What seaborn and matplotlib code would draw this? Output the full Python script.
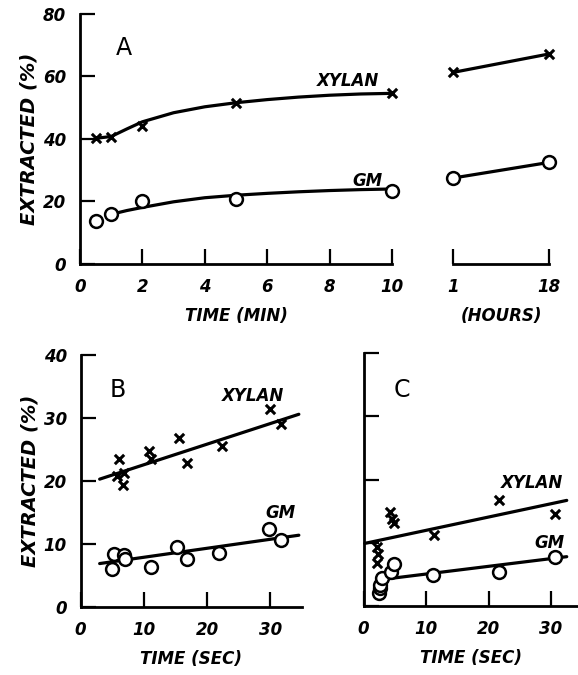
import numpy as np
import pandas as pd
import seaborn as sns
import matplotlib.pyplot as plt

# ---- panel A : short times (min) ----
a_t = [0.5, 1, 2, 5, 10]
a_xylan = [40.3, 40.7, 44, 51.5, 54.6]
a_gm = [13.8, 16, 20.2, 20.8, 23.5]

# drawn curves
a_xylan_curve_t = [0.5, 1, 1.5, 2, 3, 4, 5, 6, 7, 8, 9, 10]
a_xylan_curve = [40.2, 40.8, 43.2, 45.5, 48.4, 50.3, 51.6, 52.6, 53.4, 54.0, 54.4, 54.6]
a_gm_curve_t = [1, 1.5, 2, 3, 4, 5, 6, 7, 8, 9, 10]
a_gm_curve = [15.9, 17.1, 18.1, 19.9, 21.2, 22.0, 22.6, 23.1, 23.5, 23.8, 24.0]

# ---- panel A : long times (hours) ----
a_hours = [1, 18]
a_xylan_h = [61.3, 67.2]
a_gm_h = [27.5, 32.5]

# ---- panel B (sec) ----
b_xylan_t = [5.8, 6.0, 6.7, 6.8, 10.8, 11.1, 15.5, 16.8, 22.3, 30.0, 31.7]
b_xylan = [20.8, 23.5, 19.3, 21.2, 24.8, 23.5, 26.9, 22.8, 25.6, 31.4, 29.1]
b_gm_t = [5.0, 5.3, 6.8, 7.0, 11.1, 15.3, 16.8, 21.8, 29.8, 31.6]
b_gm = [6.1, 8.4, 8.2, 7.6, 6.4, 9.5, 7.7, 8.5, 12.4, 10.6]
b_fit_t = [3, 34.5]
b_xylan_fit = [20.3, 30.6]
b_gm_fit = [6.9, 11.4]

# ---- panel C (sec) ----
c_xylan_t = [2.1, 2.3, 2.2, 4.2, 4.5, 4.8, 11.2, 21.6, 30.6]
c_xylan = [6.8, 8.2, 9.4, 14.8, 13.8, 13.2, 11.2, 16.7, 14.6]
c_gm_t = [2.5, 2.6, 2.6, 2.9, 4.4, 4.9, 11.1, 21.6, 30.6]
c_gm = [2.0, 2.8, 3.3, 4.5, 5.4, 6.6, 4.9, 5.4, 7.7]
c_xylan_fit_t = [0.2, 32.5]
c_xylan_fit = [9.9, 16.7]
c_gm_fit_t = [3, 32.5]
c_gm_fit = [4.2, 7.8]

sns.set_style('ticks')
plt.rcParams['font.family'] = ['DejaVu Sans']
plt.rcParams.update({'text.color': 'black', 'axes.labelcolor': 'black',
                     'xtick.color': 'black', 'ytick.color': 'black',
                     'axes.edgecolor': 'black'})

LW = 2.0
lab = dict(fontsize=12, fontweight='bold', fontstyle='italic')


def style_ax(ax, ylabels=True):
    sns.despine(ax=ax)
    for s in ['left', 'bottom']:
        ax.spines[s].set_linewidth(LW)
        ax.spines[s].set_color('black')
    ax.tick_params(direction='in', length=11, width=1.6, pad=10, labelsize=12,
                   color='black', labelcolor='black')
    for t in ax.get_xticklabels() + ax.get_yticklabels():
        t.set_fontweight('bold')
        t.set_fontstyle('italic')
    if not ylabels:
        ax.set_yticklabels([])


def draw_xylan(ax, x, y, s=45):
    sns.scatterplot(x=x, y=y, marker='x', color='black', s=s, linewidth=2.2,
                    ax=ax, zorder=3, clip_on=False)


def draw_gm(ax, x, y, s=85):
    sns.scatterplot(x=x, y=y, marker='o', color='white', edgecolor='black', s=s,
                    linewidth=1.8, ax=ax, zorder=3, clip_on=False)


def draw_line(ax, x, y):
    sns.lineplot(x=x, y=y, color='black', lw=2.3, ax=ax, zorder=2, clip_on=False)


fig = plt.figure(figsize=(5.78, 6.75), dpi=100)
axA = fig.add_axes([0.1384, 0.6089, 0.5398, 0.3704])
axA2 = fig.add_axes([0.7837, 0.6089, 0.1661, 0.3704])
axB = fig.add_axes([0.1396, 0.1007, 0.3829, 0.3733])
axC = fig.add_axes([0.6289, 0.1022, 0.3711, 0.3748])

# panel A
draw_line(axA, a_xylan_curve_t, a_xylan_curve)
draw_line(axA, a_gm_curve_t, a_gm_curve)
draw_xylan(axA, a_t, a_xylan)
draw_gm(axA, a_t, a_gm)
axA.set_xlim(0, 10)
axA.set_ylim(0, 80)
axA.set_xticks([0, 2, 4, 6, 8, 10])
axA.set_yticks([0, 20, 40, 60, 80])
style_ax(axA)
axA.set_xlabel('TIME (MIN)', labelpad=8, **lab)
axA.set_ylabel('EXTRACTED (%)', labelpad=3, fontsize=14, fontweight='bold', fontstyle='italic')
axA.text(1.4, 69, 'A', fontsize=17, ha='center', va='center')
axA.text(8.6, 58.5, 'XYLAN', ha='center', va='center', **lab)
axA.text(9.2, 26.5, 'GM', ha='center', va='center', **lab)

# panel A, hours
draw_line(axA2, a_hours, a_xylan_h)
draw_line(axA2, a_hours, a_gm_h)
draw_xylan(axA2, a_hours, a_xylan_h)
draw_gm(axA2, a_hours, a_gm_h)
axA2.set_xlim(1, 18)
axA2.set_ylim(0, 80)
axA2.set_xticks(a_hours)
axA2.set_xticklabels(['1', '18'])
axA2.set_yticks([])
style_ax(axA2)
axA2.spines['left'].set_visible(False)
axA2.set_xlabel('(HOURS)', labelpad=8, **lab)

# panel B
draw_line(axB, b_fit_t, b_xylan_fit)
draw_line(axB, b_fit_t, b_gm_fit)
draw_xylan(axB, b_xylan_t, b_xylan)
draw_gm(axB, b_gm_t, b_gm)
axB.set_xlim(0, 35)
axB.set_ylim(0, 40)
axB.set_xticks([0, 10, 20, 30])
axB.set_yticks([0, 10, 20, 30, 40])
style_ax(axB)
axB.set_xlabel('TIME (SEC)', labelpad=8, **lab)
axB.set_ylabel('EXTRACTED (%)', labelpad=3, fontsize=14, fontweight='bold', fontstyle='italic')
axB.text(5.9, 34.5, 'B', fontsize=17, ha='center', va='center')
axB.text(27.3, 33.5, 'XYLAN', ha='center', va='center', **lab)
axB.text(31.6, 15, 'GM', ha='center', va='center', **lab)

# panel C
draw_line(axC, c_xylan_fit_t, c_xylan_fit)
draw_line(axC, c_gm_fit_t, c_gm_fit)
draw_xylan(axC, c_xylan_t, c_xylan)
draw_gm(axC, c_gm_t, c_gm)
axC.set_xlim(0, 34.3)
axC.set_ylim(0, 40)
axC.set_xticks([0, 10, 20, 30])
axC.set_yticks([0, 10, 20, 30, 40])
style_ax(axC, ylabels=False)
axC.set_xlabel('TIME (SEC)', labelpad=8, **lab)
axC.text(6.1, 34.1, 'C', fontsize=17, ha='center', va='center')
axC.text(27, 19.5, 'XYLAN', ha='center', va='center', **lab)
axC.text(29.8, 9.9, 'GM', ha='center', va='center', **lab)

fig.savefig('out.png', dpi=100)
